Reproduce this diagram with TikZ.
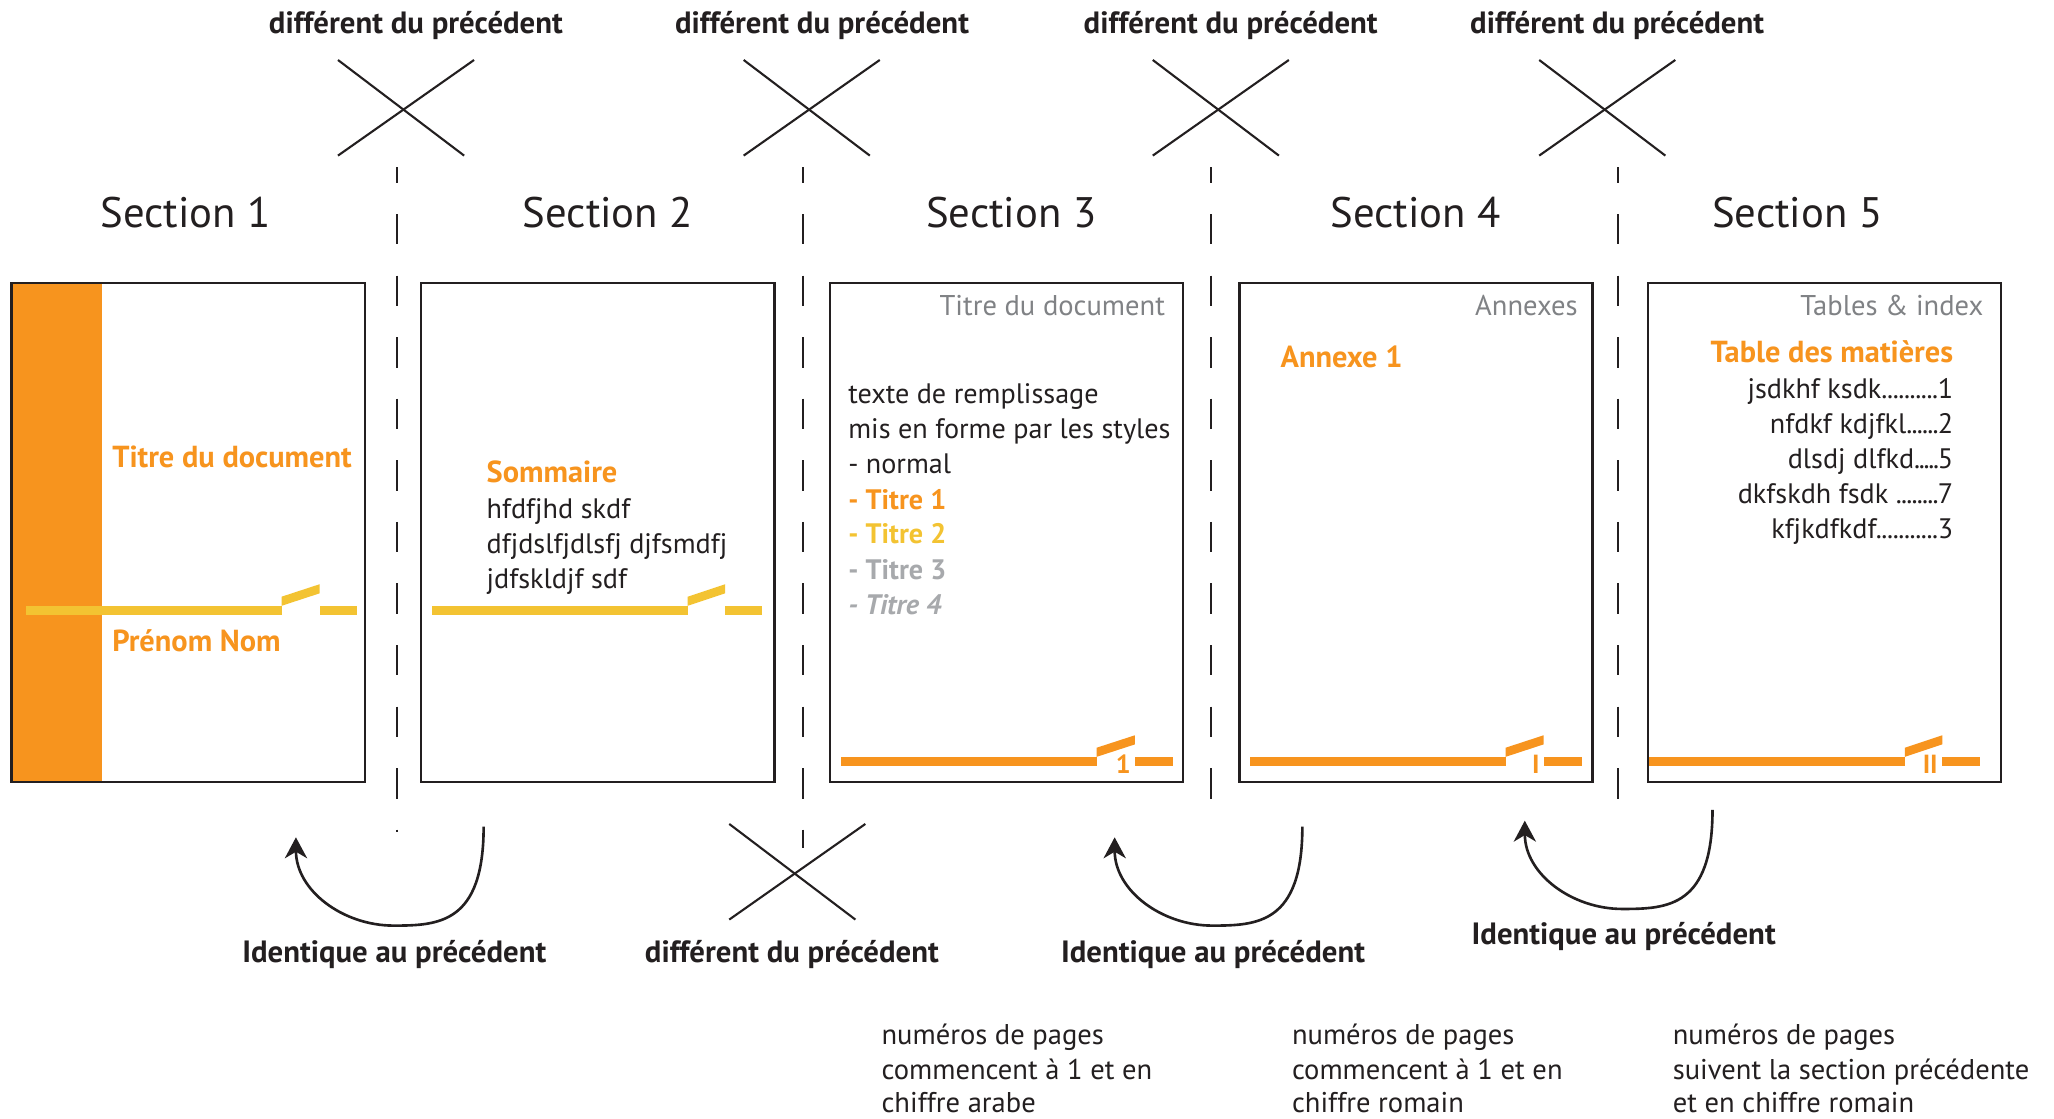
\documentclass[tikz,border=0pt]{standalone}
\usepackage{fontspec}
\setmainfont{PT Sans}
\usetikzlibrary{arrows.meta}
\definecolor{orng}{HTML}{F7941E}
\definecolor{ylw}{HTML}{F3C332}
\definecolor{hdr}{HTML}{808285}
\definecolor{lgr}{HTML}{A7A9AC}
\definecolor{drk}{HTML}{231F20}
\newcommand\fbody{\fontsize{10.75}{12}\selectfont}
\newcommand\fhead{\fontsize{10.9}{12}\selectfont}
\newcommand\fnote{\fontsize{10.9}{12}\selectfont}
\newcommand\ftitle{\fontsize{11.6}{13}\selectfont\bfseries}
\newcommand\fsec{\fontsize{16.3}{18}\selectfont}
\newcommand\flab{\fontsize{11.75}{13}\selectfont\bfseries}
\newcommand\fnum{\fontsize{10}{12}\selectfont\bfseries}
\newcommand\dd{.\kern-0.3pt}
\newcommand\dn{.\kern-0.5pt}
\newcommand\de{.\kern-0.15pt}
% broken line: x0 x1 x2 x3 y colour
\newcommand\brkline[6]{%
  \fill[#6] (#1,{#5-3.45}) rectangle (#2,{#5+3.45});
  \fill[#6] (#2,{#5-3.45}) -- (#2,{#5-10.4}) -- (#3,{#5-19.9}) -- (#3,{#5-12.95}) -- cycle;
  \fill[#6] (#3,{#5-3.45}) rectangle (#4,{#5+3.45});}
\newcommand\xcross[2]{%
  \draw[crossline] (#1,#2) -- ({#1+96.3},{#2+73});
  \draw[crossline] (#1,{#2+73}) -- ({#1+103.9},#2);}
\begin{document}
\begin{tikzpicture}[x=0.5pt,y=-0.5pt,
  pagebox/.style={draw=drk, line width=1pt, minimum width=134.75pt, minimum height=190.5pt, anchor=north west, inner sep=0pt, outer sep=0pt},
  txt/.style={inner sep=0pt, outer sep=0pt, text=drk, font=\fbody},
  btxt/.style={txt, font=\fbody\bfseries},
  ttxt/.style={txt, font=\ftitle, text=orng},
  notetxt/.style={txt, font=\fnote, anchor=base west},
  hdrtxt/.style={txt, font=\fhead, text=hdr, anchor=base east},
  sectxt/.style={txt, font=\fsec, anchor=base},
  labtxt/.style={txt, font=\flab, anchor=base},
  numtxt/.style={txt, font=\fnum, text=orng, anchor=base},
  crossline/.style={draw=drk, line width=0.8pt},
  sepline/.style={draw=drk, line width=0.9pt, dash pattern=on 11.6pt off 11.9pt, dash phase=5.55pt},
  backarrow/.style={draw=drk, line width=1pt, -{Stealth[length=8pt, width=8.5pt, inset=2.5pt]}}
]
\useasboundingbox (0,0) rectangle (1568,854);
\fill[white] (0,0) rectangle (1568,854);

% top labels and crosses
\node[labtxt] (top1) at (317.5,25.4) {différent du précédent};
\node[labtxt] (top2) at (627.5,25.4) {différent du précédent};
\node[labtxt] (top3) at (939.5,25.4) {différent du précédent};
\node[labtxt] (top4) at (1234.5,25.4) {différent du précédent};
\xcross{258}{45.8}
\xcross{567.7}{45.8}
\xcross{880}{45.8}
\xcross{1175}{45.8}

% section titles
\node[sectxt] (s1) at (141.5,173.3) {Section 1};
\node[sectxt] (s2) at (464,173.3) {Section 2};
\node[sectxt] (s3) at (772,173.3) {Section 3};
\node[sectxt] (s4) at (1080.5,173.3) {Section 4};
\node[sectxt] (s5) at (1372,173.3) {Section 5};

% separators
\coordinate (d1t) at (303.3,127.5); \coordinate (d1b) at (303.3,635);
\coordinate (d2t) at (613,127.5);   \coordinate (d2b) at (613,647);
\coordinate (d3t) at (924.5,127.5); \coordinate (d3b) at (924.5,633);
\coordinate (d4t) at (1235,127.5);  \coordinate (d4b) at (1235,611);
\draw[sepline] (d1t) -- (d1b);
\draw[sepline] (d2t) -- (d2b);
\draw[sepline] (d3t) -- (d3b);
\draw[sepline] (d4t) -- (d4b);

% page 1
\fill[orng] (9,216) rectangle (78,597);
\brkline{20}{215}{244}{272.5}{465.9}{ylw}
\node[pagebox] (p1) at (9,216) {};
\node[ttxt, anchor=base west] (p1t) at (85.7,356.6) {Titre du document};
\node[ttxt, anchor=base west] (p1n) at (85.7,497) {Prénom Nom};

% page 2
\node[pagebox] (p2) at (321.5,216) {};
\brkline{330}{525}{553.5}{582}{465.9}{ylw}
\node[ttxt, anchor=base west] (p2a) at (371.5,368.2) {Sommaire};
\node[txt, anchor=base west] (p2b) at (371.5,395.8) {hfdfjhd skdf};
\node[txt, anchor=base west] (p2c) at (371.5,422.4) {dfjdslfjdlsfj djfsmdfj};
\node[txt, anchor=base west] (p2d) at (371.5,449.2) {jdfskldjf sdf};

% page 3
\node[pagebox] (p3) at (633.6,216) {};
\brkline{642}{837.2}{866.4}{895.2}{581.2}{orng}
\node[hdrtxt] (p3h) at (889.3,241) {Titre du document};
\node[txt, anchor=base west] (p3a) at (647.6,308) {texte de remplissage};
\node[txt, anchor=base west] (p3b) at (647.6,335.1) {mis en forme par les styles};
\node[txt, anchor=base west] (p3c) at (647.6,361.7) {- normal};
\node[btxt, text=orng, anchor=base west] (p3d) at (647.6,388.8) {- Titre 1};
\node[btxt, text=ylw, anchor=base west] (p3e) at (647.6,415.1) {- Titre 2};
\node[btxt, text=lgr, anchor=base west] (p3f) at (647.6,442.2) {- Titre 3};
\node[btxt, text=lgr, anchor=base west, font=\fbody\bfseries\itshape] (p3g) at (647.6,469.3) {- Titre 4};
\node[numtxt] (p3n) at (857.5,590.6) {1};

% page 4
\node[pagebox] (p4) at (946,216) {};
\brkline{954.2}{1149.4}{1178.4}{1207.4}{581.2}{orng}
\node[hdrtxt] (p4h) at (1204.3,241) {Annexes};
\node[ttxt, anchor=base west] (p4a) at (977.6,280.2) {Annexe 1};
\node[numtxt] (p4n) at (1172.4,590.6) {I};

% page 5
\node[pagebox] (p5) at (1258,216) {};
\brkline{1259}{1454.2}{1482.7}{1511.5}{581.2}{orng}
\node[hdrtxt] (p5h) at (1514,241) {Tables \& index};
\node[ttxt, anchor=base east] (p5a) at (1491,277) {Table des matières};
\node[txt, anchor=base east] (p5b) at (1491,304.2) {jsdkhf ksdk\de\de\de\de\de\de\de\de\de\de 1};
\node[txt, anchor=base east] (p5c) at (1491,331.3) {nfdkf kdjfkl\dd\dd\dd\dd\dd\dd 2};
\node[txt, anchor=base east] (p5d) at (1491,357.9) {dlsdj dlfkd\dn\dn\dn\dn\dn 5};
\node[txt, anchor=base east] (p5e) at (1491,384.2) {dkfskdh fsdk \dd\dd\dd\dd\dd\dd\dd\dd 7};
\node[txt, anchor=base east] (p5f) at (1491,411.3) {kfjkdfkdf\de\de\de\de\de\de\de\de\de\de\de 3};
\node[numtxt] (p5n) at (1473.5,590.6) {II};

% bottom: arrows and cross
\foreach \i/\dx/\dy in {1/0/0, 2/625/0, 3/938.1/-12.7}{
  \begin{scope}[shift={(\dx,\dy)}]
    \coordinate (ar\i) at (369.2,631);
    \coordinate (ab\i) at (300.4,706.6);
    \coordinate (at\i) at (225.9,639.2);
    \draw[backarrow] (ar\i) .. controls (369.2,705) and (335,706.6) .. (ab\i)
                     .. controls (262,706.6) and (226,680) .. (at\i);
  \end{scope}
}
\xcross{556.7}{629}

\node[labtxt] (b1) at (301,735) {Identique au précédent};
\node[labtxt] (b2) at (604.5,735) {différent du précédent};
\node[labtxt] (b3) at (926,735) {Identique au précédent};
\node[labtxt] (b4) at (1239.5,721) {Identique au précédent};

% notes
\node[notetxt] (n1a) at (673,797.7) {numéros de pages};
\node[notetxt] (n1b) at (673,824) {commencent à 1 et en};
\node[notetxt] (n1c) at (673,849) {chiffre arabe};
\node[notetxt] (n2a) at (986.3,797.7) {numéros de pages};
\node[notetxt] (n2b) at (986.3,824) {commencent à 1 et en};
\node[notetxt] (n2c) at (986.3,849) {chiffre romain};
\node[notetxt] (n3a) at (1277,797.7) {numéros de pages};
\node[notetxt] (n3b) at (1277,824) {suivent la section précédente};
\node[notetxt] (n3c) at (1277,849) {et en chiffre romain};
\end{tikzpicture}
\end{document}
